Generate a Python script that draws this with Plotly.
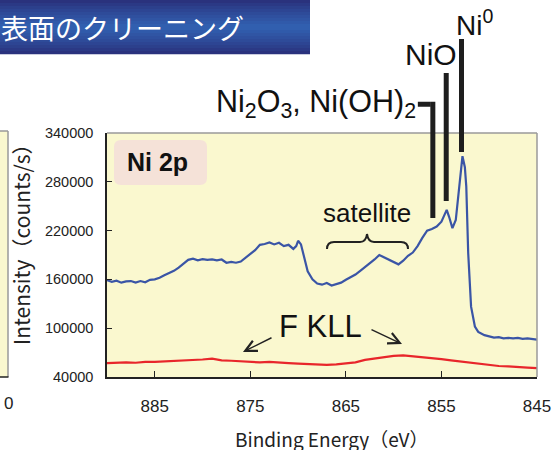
import plotly.graph_objects as go

# ---------------- data ----------------
blue_ev = [890.0, 889.5, 889.0, 888.5, 888.0, 887.5, 887.0, 886.5, 886.0, 885.5,
           885.0, 884.5, 884.0, 883.5, 883.0, 882.5, 882.0, 881.5, 881.0, 880.5,
           880.0, 879.5, 879.0, 878.5, 878.0, 877.5, 877.0, 876.5, 876.0, 875.5,
           875.0, 874.5, 874.0, 873.5, 873.0, 872.5, 872.0, 871.5, 871.0, 870.5,
           870.2, 870.0, 869.7, 869.4, 869.0, 868.5, 868.0, 867.5, 867.0, 866.5,
           866.0, 865.5, 865.0, 864.5, 864.0, 863.5, 863.0, 862.5, 862.0, 861.5,
           861.0, 860.5, 860.0, 859.5, 859.0, 858.5, 858.0, 857.5, 857.0, 856.5,
           856.0, 855.5, 855.0, 854.7, 854.45, 854.2, 853.85, 853.5, 853.2, 852.95,
           852.8, 852.55, 852.4, 852.2, 851.9, 851.5, 851.15, 850.5, 850.0, 849.5,
           849.0, 848.5, 848.0, 847.5, 847.0, 846.5, 846.0, 845.5, 845.0]
blue_counts = [159000, 157000, 158500, 156000, 157500, 158000, 156000, 158000, 156500, 159500,
               160000, 162000, 165000, 167500, 170500, 174500, 179000, 184000, 185500, 183500,
               185000, 184000, 184500, 183500, 184500, 180500, 181500, 180500, 182000, 186500,
               191500, 196000, 202500, 203500, 205500, 203000, 205000, 201000, 202500, 197500,
               201000, 207500, 203000, 188000, 170000, 160000, 155000, 153500, 155500, 152500,
               154500, 156000, 159500, 162500, 166000, 170500, 175000, 179500, 184500, 190000,
               187000, 185000, 181000, 178500, 183000, 189000, 193000, 201000, 211000, 220000,
               222000, 225000, 231000, 240000, 245500, 237000, 223000, 233000, 266000, 302000,
               311500, 298000, 274000, 192500, 126500, 102000, 95500, 91500, 90000, 88500,
               89000, 87500, 88000, 87500, 88000, 87000, 87500, 86500, 86000]

red_ev = [890, 889, 888, 887, 886, 885, 884, 883, 882, 881, 880, 879, 878, 877, 876,
          875, 874, 873, 872, 871, 870, 869, 868, 867, 866, 865, 864, 863, 862, 861,
          860, 859, 858, 857, 856, 855, 854, 853, 852, 851, 850, 849, 848, 847, 846, 845]
red_counts = [57000, 57500, 58000, 57500, 58500, 58500, 59000, 59500, 60000, 60500,
              61500, 62500, 60500, 60000, 59500, 59000, 58000, 58500, 57500, 57000,
              56500, 56000, 55500, 55000, 55500, 56500, 58000, 61000, 62500, 64000,
              66000, 66500, 65500, 64500, 63500, 62000, 60500, 59000, 57500, 56000,
              55000, 53500, 53000, 52000, 51500, 51000]

x_ticks = [885, 875, 865, 855, 845]
y_ticks = [40000, 100000, 160000, 220000, 280000, 340000]
x_range = [890, 845]
y_range = [40000, 340000]

peak_ni0 = 852.9
peak_nio = 854.5
peak_nioh = 855.9
peak_nioh_arm = 857.47

# ---------------- geometry helpers (pixel -> paper) ----------------
W, H = 553, 450
L, R, T, B = 107, 537, 133, 377


def px(x):
    return (x - L) / (R - L)


def py(y):
    return (B - y) / (B - T)


def P(x, y):
    return f"{px(x):.5f},{py(y):.5f}"


BG = "#FAF8CF"
BLUE = "#3A55A6"
RED = "#E8262B"
TXT = "Liberation Sans, Arial, sans-serif"
JP = "Noto Sans CJK JP, sans-serif"

fig = go.Figure()
fig.add_trace(go.Scatter(x=blue_ev, y=blue_counts, mode="lines",
                         line=dict(color=BLUE, width=2.2), showlegend=False,
                         hoverinfo="skip"))
fig.add_trace(go.Scatter(x=red_ev, y=red_counts, mode="lines",
                         line=dict(color=RED, width=2.2), showlegend=False,
                         hoverinfo="skip"))

shapes = []
# title banner (vertical gradient made of strips)
top_c = (42, 45, 120)
mid_c = (50, 98, 178)
n_strips = 18
bh = 54.0
for i in range(n_strips):
    t = (i + 0.5) / n_strips
    f = 1 - abs(t - 0.5) * 2
    f = f ** 0.8
    c = tuple(int(top_c[k] + (mid_c[k] - top_c[k]) * f) for k in range(3))
    shapes.append(dict(type="rect", xref="paper", yref="paper",
                       x0=px(0), x1=px(310), y0=py(bh * i / n_strips),
                       y1=py(bh * (i + 1) / n_strips + 0.3),
                       fillcolor=f"rgb{c}", line=dict(width=0), layer="above"))

# neighbouring panel fragment on the left
shapes.append(dict(type="rect", xref="paper", yref="paper",
                   x0=px(0), x1=px(8), y0=py(377), y1=py(131),
                   fillcolor=BG, line=dict(width=0)))
shapes.append(dict(type="line", xref="paper", yref="paper",
                   x0=px(8), x1=px(8), y0=py(377), y1=py(131),
                   line=dict(color="#9A9A9A", width=1.5)))
shapes.append(dict(type="line", xref="paper", yref="paper",
                   x0=px(0), x1=px(8), y0=py(131), y1=py(131),
                   line=dict(color="#9A9A9A", width=1.5)))
shapes.append(dict(type="line", xref="paper", yref="paper",
                   x0=px(0), x1=px(8.5), y0=py(377), y1=py(377),
                   line=dict(color="#222", width=1.5)))

# top / right frame (gray)
shapes.append(dict(type="line", xref="paper", yref="paper", x0=0, x1=1, y0=1, y1=1,
                   line=dict(color="#9A9A9A", width=1.5)))
shapes.append(dict(type="line", xref="paper", yref="paper", x0=1, x1=1, y0=0, y1=1,
                   line=dict(color="#9A9A9A", width=1.5)))

# Ni 2p rounded box
x0, y0, x1, y1, r = 114, 140, 207, 185, 7
path = (f"M{P(x0 + r, y0)} L{P(x1 - r, y0)} Q{P(x1, y0)} {P(x1, y0 + r)} "
        f"L{P(x1, y1 - r)} Q{P(x1, y1)} {P(x1 - r, y1)} L{P(x0 + r, y1)} "
        f"Q{P(x0, y1)} {P(x0, y1 - r)} L{P(x0, y0 + r)} Q{P(x0, y0)} {P(x0 + r, y0)} Z")
shapes.append(dict(type="path", xref="paper", yref="paper", path=path,
                   fillcolor="#F5E2D8", line=dict(width=0)))

# satellite brace
brace = (f"M{P(327, 249)} Q{P(327, 242)} {P(334, 242)} L{P(360, 242)} "
         f"Q{P(366, 242)} {P(367, 234)} Q{P(368, 242)} {P(374, 242)} "
         f"L{P(401, 242)} Q{P(408, 242)} {P(408, 249)}")
shapes.append(dict(type="path", xref="paper", yref="paper", path=brace,
                   line=dict(color="#222", width=2)))

# peak marker bars (x in data, y in paper)
BAR = dict(color="#1E1E1E", width=5)
shapes.append(dict(type="line", xref="x", yref="paper", x0=peak_ni0, x1=peak_ni0,
                   y0=py(152), y1=py(39), line=BAR))
shapes.append(dict(type="line", xref="x", yref="paper", x0=peak_nio, x1=peak_nio,
                   y0=py(201), y1=py(73), line=BAR))
shapes.append(dict(type="path", xref="x", yref="paper",
                   path=(f"M{peak_nioh_arm},{py(104.2):.5f} L{peak_nioh + 0.27},{py(104.2):.5f} "
                         f"M{peak_nioh},{py(101.8):.5f} L{peak_nioh},{py(218):.5f}"),
                   line=BAR))

annotations = []
# banner title
annotations.append(dict(text="表面のクリーニング", xref="paper", yref="paper",
                        x=px(-1), y=py(27), xanchor="left", yanchor="middle",
                        showarrow=False, font=dict(family=JP, size=27, color="white")))
# left panel tick remnant
annotations.append(dict(text="0", xref="paper", yref="paper", x=px(8), y=py(403),
                        xanchor="center", yanchor="middle", showarrow=False,
                        font=dict(family=TXT, size=17, color="#222")))
# axis titles
annotations.append(dict(text="Binding Energy（eV）", xref="paper", yref="paper",
                        x=px(331), y=py(438), xanchor="center", yanchor="middle",
                        showarrow=False, font=dict(family=JP, size=19, color="#222")))
annotations.append(dict(text="Intensity（counts/s）", xref="paper", yref="paper",
                        x=px(21), y=py(239), xanchor="center", yanchor="middle",
                        textangle=-90, showarrow=False,
                        font=dict(family=JP, size=21, color="#222")))
# labels
annotations.append(dict(text="<b>Ni 2p</b>", xref="paper", yref="paper",
                        x=px(157), y=py(162), xanchor="center", yanchor="middle",
                        showarrow=False, font=dict(family=TXT, size=25, color="#111")))
annotations.append(dict(text="satellite", xref="paper", yref="paper",
                        x=px(367), y=py(213), xanchor="center", yanchor="middle",
                        showarrow=False, font=dict(family=TXT, size=26, color="#111")))
annotations.append(dict(text="F KLL", xref="paper", yref="paper",
                        x=px(320), y=py(326), xanchor="center", yanchor="middle",
                        showarrow=False, font=dict(family=TXT, size=31, color="#111")))
annotations.append(dict(text="Ni<sup>0</sup>", xref="paper", yref="paper",
                        x=px(454), y=py(23), xanchor="left", yanchor="middle",
                        showarrow=False, font=dict(family=TXT, size=28, color="#111")))
annotations.append(dict(text="NiO", xref="paper", yref="paper",
                        x=px(431), y=py(54), xanchor="center", yanchor="middle",
                        showarrow=False, font=dict(family=TXT, size=30, color="#111")))
annotations.append(dict(text="Ni<sub>2</sub>O<sub>3</sub>, Ni(OH)<sub>2</sub>",
                        xref="paper", yref="paper",
                        x=px(418), y=py(104), xanchor="right", yanchor="middle",
                        showarrow=False, font=dict(family=TXT, size=30.5, color="#111")))
# F KLL arrows
for tail, tip in [((273, 337), (243, 352)), ((370, 329), (402, 344))]:
    annotations.append(dict(text="", xref="paper", yref="paper",
                            x=px(tip[0]), y=py(tip[1]),
                            ax=tail[0] - tip[0], ay=tail[1] - tip[1],
                            axref="pixel", ayref="pixel",
                            showarrow=True, arrowhead=5, arrowsize=1.6,
                            arrowwidth=1.4, arrowcolor="#222"))

fig.update_layout(
    width=W, height=H, autosize=False,
    margin=dict(l=L, r=W - R, t=T, b=H - B, pad=0, autoexpand=False),
    paper_bgcolor="white", plot_bgcolor=BG,
    shapes=shapes, annotations=annotations,
    xaxis=dict(range=x_range, tickvals=x_ticks, ticktext=[str(v) for v in x_ticks],
               ticks="inside", ticklen=6, tickwidth=1.2, tickcolor="#222",
               showline=True, linecolor="#222", linewidth=1.5, mirror=False,
               showgrid=False, zeroline=False, ticklabelstandoff=13, automargin=False,
               tickfont=dict(family=TXT, size=17, color="#222")),
    yaxis=dict(range=y_range, tickvals=y_ticks, ticktext=[str(v) for v in y_ticks],
               ticks="inside", ticklen=5, tickwidth=1.2, tickcolor="#222",
               showline=True, linecolor="#222", linewidth=1.5, mirror=False,
               showgrid=False, zeroline=False, ticklabelstandoff=9, automargin=False,
               tickfont=dict(family=TXT, size=14.5, color="#222")),
)

fig.write_html("out.html",
               config={"displayModeBar": False, "responsive": False},
               post_script="document.body.style.margin='0';document.body.style.overflow='hidden';")
